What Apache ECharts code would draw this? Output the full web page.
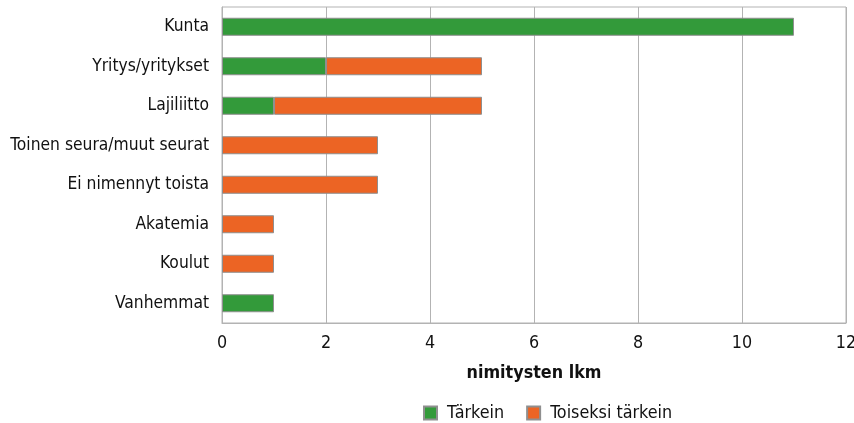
<!DOCTYPE html>
<html>
<head>
<meta charset="utf-8">
<script src="https://cdn.jsdelivr.net/npm/echarts@6/dist/echarts.min.js"></script>
<style>
  html, body { margin: 0; padding: 0; background: #fff; }
  #chart { width: 854px; height: 423px; }
</style>
</head>
<body>
<div id="chart"></div>
<script>
// Categories, listed top to bottom
const categories = ['Kunta', 'Yritys/yritykset', 'Lajiliitto', 'Toinen seura/muut seurat',
  'Ei nimennyt toista', 'Akatemia', 'Koulut', 'Vanhemmat'];
// Number of mentions per category
const tarkein = [11, 2, 1, 0, 0, 0, 0, 1];
const toiseksiTarkein = [0, 3, 4, 3, 3, 1, 1, 0];
const xTicks = [0, 2, 4, 6, 8, 10, 12];

// Prefer a narrow face; fall back to a humanist sans
const probe = document.createElement('canvas').getContext('2d');
function fontWidth(family, text) {
  probe.font = '20px ' + family;
  return probe.measureText(text).width;
}
function installed(name) {
  const t = 'Toinen seura/muut seurat 0123456789';
  return fontWidth('"' + name + '", monospace', t) !== fontWidth('monospace', t) ||
         fontWidth('"' + name + '", serif', t) !== fontWidth('serif', t);
}
const candidates = ['Liberation Sans Narrow', 'DejaVu Sans Condensed', 'Open Sans', 'Noto Sans'];
const FAMILY = candidates.find(installed) || 'sans-serif';
const FONT = '"' + FAMILY + '", sans-serif';
// Size so that the longest category label spans about 199px
const longest = 'Toinen seura/muut seurat';
const FS = Math.min(21, Math.round(20 * 199 / fontWidth(FONT, longest) * 10) / 10);

const GREEN = '#339a3a';
const ORANGE = '#ec6424';
const EDGE = '#8f8f8f';
const GRID_LINE = '#b3b3b3';

// Zero counts draw no segment
const asBars = arr => arr.map(v => (v === 0 ? '-' : v));

const chart = echarts.init(document.getElementById('chart'), null, { renderer: 'canvas' });
chart.setOption({
  animation: false,
  textStyle: { fontFamily: FONT },
  grid: {
    left: 222, right: 8, top: 7, bottom: 100,
    containLabel: false,
    outerBoundsMode: 'none',
    show: true, borderColor: GRID_LINE, borderWidth: 1
  },
  xAxis: {
    type: 'value',
    min: xTicks[0],
    max: xTicks[xTicks.length - 1],
    interval: xTicks[1] - xTicks[0],
    name: 'nimitysten lkm',
    nameLocation: 'middle',
    nameGap: 41,
    nameTextStyle: { fontFamily: FONT, fontSize: FS + 0.5, fontWeight: 'bold', color: '#111' },
    axisLine: { show: true, lineStyle: { color: GRID_LINE, width: 1 } },
    axisTick: { show: false },
    axisLabel: { fontFamily: FONT, fontSize: FS + 0.5, color: '#111', margin: 11 },
    splitLine: { show: true, lineStyle: { color: GRID_LINE, width: 1 } }
  },
  yAxis: {
    type: 'category',
    data: categories,
    inverse: true,
    axisLine: { show: true, lineStyle: { color: GRID_LINE, width: 1 } },
    axisTick: { show: false },
    axisLabel: { fontFamily: FONT, fontSize: FS, color: '#111', margin: 13 },
    splitLine: { show: false }
  },
  legend: {
    left: 418, top: 399,
    icon: 'rect',
    itemWidth: 13, itemHeight: 13, itemGap: 22,
    textStyle: { fontFamily: FONT, fontSize: FS + 0.5, color: '#111', padding: [0, 0, 0, 5] },
    data: ['Tärkein', 'Toiseksi tärkein']
  },
  series: [
    {
      name: 'Tärkein', type: 'bar', stack: 'total', barWidth: 18,
      itemStyle: { color: GREEN, borderColor: EDGE, borderWidth: 1 },
      data: asBars(tarkein)
    },
    {
      name: 'Toiseksi tärkein', type: 'bar', stack: 'total', barWidth: 18,
      itemStyle: { color: ORANGE, borderColor: EDGE, borderWidth: 1 },
      data: asBars(toiseksiTarkein)
    }
  ]
});
</script>
</body>
</html>
